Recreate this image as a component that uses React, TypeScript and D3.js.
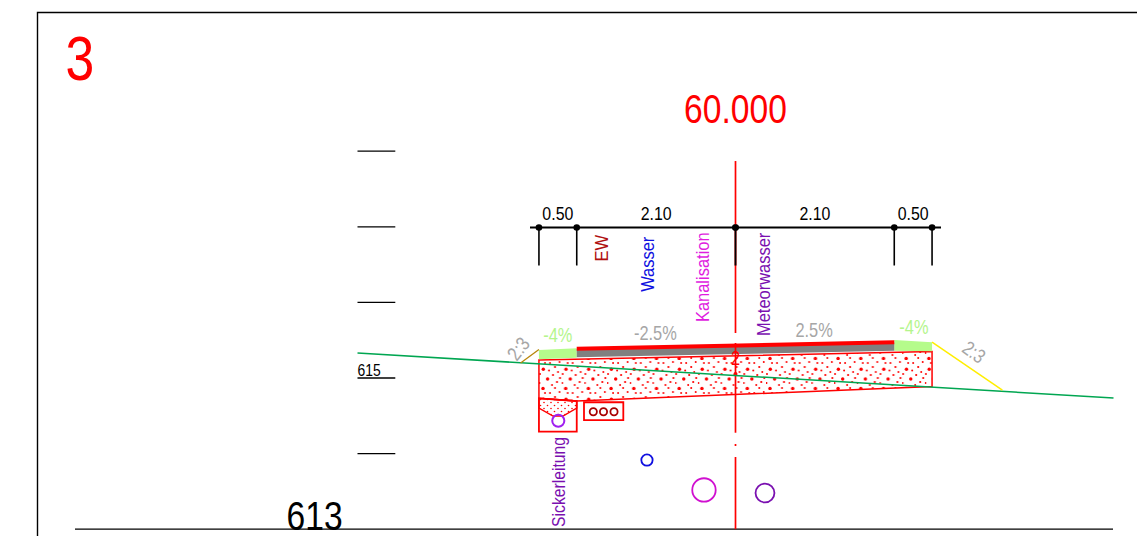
import React from "react";
import * as d3 from "d3";

type P = [number, number];

// section geometry: [offset from axis in m, elevation in m]
const terrain: P[] = [[-5, 615.33], [5, 614.735]];
const roadSurface: P[] = [[-2.1, 615.388], [2.1, 615.472]];
const roadLayer: P[] = [[-2.1, 615.388], [2.1, 615.472], [2.1, 615.361], [-2.1, 615.274]];
const shoulderLeft: P[] = [[-2.6, 615.37], [-2.1, 615.393], [-2.1, 615.269], [-2.6, 615.247]];
const shoulderRight: P[] = [[2.1, 615.503], [2.6, 615.472], [2.6, 615.353], [2.1, 615.361]];
const foundation: P[] = [[-2.6, 615.238], [2.6, 615.35], [2.6, 614.888], [-2.1, 614.696], [-2.6, 614.731]];
const drainFill: P[] = [[-2.6, 614.731], [-2.1, 614.696], [-2.1, 614.603], [-2.282, 614.497], [-2.414, 614.497], [-2.6, 614.603]];
const drainBox: P[] = [[-2.6, 614.731], [-2.1, 614.696], [-2.1, 614.29], [-2.6, 614.29]];
const slopeLeft: P[] = [[-2.843, 615.198], [-2.6, 615.377]];
const slopeRight: P[] = [[2.6, 615.476], [3.53, 614.841]];
const ductBox: P[] = [[-2.004, 614.679], [-1.484, 614.679], [-1.484, 614.444], [-2.004, 614.444]];
const ductPipes: number[] = [-1.881, -1.746, -1.607];
const ductElevation = 614.554;
const pipes: { x: number; z: number; d: number; c: string; w: number }[] = [
  { x: -2.344, z: 614.435, d: 0.16, c: "#a020f0", w: 2 },
  { x: -1.171, z: 613.915, d: 0.15, c: "#1010e0", w: 1.8 },
  { x: -0.417, z: 613.519, d: 0.31, c: "#d010d0", w: 1.8 },
  { x: 0.39, z: 613.479, d: 0.25, c: "#7a10b0", w: 1.8 },
];
const dimOffsets: number[] = [-2.6, -2.1, 0, 2.1, 2.6];
const dimLabels: string[] = ["0.50", "2.10", "2.10", "0.50"];
const elevationTicks: number[] = [618, 617, 616, 615, 614];
const axisSegments: [number, number][] = [[617.87, 615.595], [615.463, 614.276], [613.955, 613]];
const utilityLabels: { t: string; x: number; c: string; bottom: number; sx: number }[] = [
  { t: "EW", x: -1.69, c: "#b01010", bottom: 616.54, sx: 0.89 },
  { t: "Wasser", x: -1.08, c: "#1010e0", bottom: 616.14, sx: 0.89 },
  { t: "Kanalisation", x: -0.35, c: "#e01ce0", bottom: 615.74, sx: 0.89 },
  { t: "Meteorwasser", x: 0.45, c: "#7a10b0", bottom: 615.555, sx: 0.89 },
  { t: "Sickerleitung", x: -2.255, c: "#7a10b0", bottom: 613.03, sx: 0.85 },
];
const gradeLabels: { t: string; x: number; z: number; c: string; r: number }[] = [
  { t: "-4%", x: -2.35, z: 615.48, c: "#b4f58c", r: 0 },
  { t: "-2.5%", x: -1.06, z: 615.5, c: "#a6a6a6", r: 0 },
  { t: "2.5%", x: 1.04, z: 615.54, c: "#a6a6a6", r: 0 },
  { t: "-4%", x: 2.36, z: 615.58, c: "#b4f58c", r: 0 },
  { t: "2:3", x: -2.8, z: 615.33, c: "#a6a6a6", r: -52 },
  { t: "2:3", x: 3.1, z: 615.27, c: "#a6a6a6", r: 36 },
];
// stipple tile dots: [x, y, radius]
const stippleDots: [number, number, number][] = [
  [4.3, 9.3, 1.7], [8.6, 19, 1.7], [4, 28.5, 1.7],
  [11, 3, 1.0], [16, 7, 1.1], [19, 12, 1.0], [14, 15, 1.1], [1, 14, 1.0],
  [18, 22, 1.1], [13, 25, 1.0], [0.5, 23, 1.0], [10, 10.5, 1.0], [20.5, 2, 1.0],
  [6, 3, 1.0], [16, 28, 1.0], [21, 18, 1.1],
];
const fineDots: [number, number][] = [[1.5, 1.5], [5, 4.5]];

const x = d3.scaleLinear().domain([-5, 5]).range([357.5, 1113.5]);
const y = d3.scaleLinear().domain([613, 615]).range([529.2, 378]);
const px = 75.6;
const pt = (p: P): [number, number] => [x(p[0]), y(p[1])];
const line = d3.line<P>().x((d) => x(d[0])).y((d) => y(d[1]));
const closed = (a: P[]) => line(a) + "Z";
const FONT = "'Liberation Sans',Arial,sans-serif";

function T(props: {
  x: number;
  y: number;
  size: number;
  fill: string;
  rotate?: number;
  sx?: number;
  anchor?: "start" | "middle" | "end";
  children: string;
}) {
  const { x: tx, y: ty, size, fill, rotate = 0, sx = 0.82, anchor = "start", children } = props;
  return (
    <text
      transform={`translate(${tx} ${ty}) rotate(${rotate}) scale(${sx} 1)`}
      fontSize={size}
      fill={fill}
      textAnchor={anchor}
    >
      {children}
    </text>
  );
}

export default function App() {
  return (
    <svg
      width={1137}
      height={536}
      viewBox="0 0 1137 536"
      style={{ position: "absolute", left: 0, top: 0, display: "block", background: "#fff" }}
      fontFamily={FONT}
    >
      <defs>
        <pattern id="stipple" width={22.7} height={30} patternUnits="userSpaceOnUse" patternTransform="translate(539 360)">
          {stippleDots.map((d, i) => (
            <circle key={i} cx={d[0]} cy={d[1]} r={d[2]} fill="#ff0000" />
          ))}
        </pattern>
        <pattern id="fine" width={7} height={6} patternUnits="userSpaceOnUse" patternTransform="translate(539 398)">
          {fineDots.map((d, i) => (
            <circle key={i} cx={d[0]} cy={d[1]} r={0.8} fill="#ff0000" />
          ))}
        </pattern>
      </defs>

      {/* frame */}
      <path d="M37.5 536V12.5H1137" fill="none" stroke="#000" strokeWidth={1.4} />
      <T x={65.5} y={80} size={63} fill="#ff0000">3</T>
      <T x={735.5} y={122.7} size={41} fill="#ff0000" anchor="middle">60.000</T>

      {/* elevation ticks */}
      {elevationTicks.map((e) => (
        <line key={e} x1={x(-5)} x2={x(-4.5)} y1={y(e)} y2={y(e)} stroke="#000" strokeWidth={1.3} />
      ))}
      <T x={357.5} y={376} size={17} fill="#000">615</T>
      <line x1={75} x2={1113} y1={y(613)} y2={y(613)} stroke="#000" strokeWidth={1.3} />
      <T x={286.5} y={530} size={41} fill="#000">613</T>

      {/* foundation */}
      <path d={closed(foundation)} fill="url(#stipple)" stroke="#ff0000" strokeWidth={1.5} />
      <path d={closed(drainFill)} fill="url(#fine)" stroke="#ff0000" strokeWidth={1.4} />
      <path d={closed(drainBox)} fill="none" stroke="#ff0000" strokeWidth={1.8} />

      {/* surface */}
      <path d={closed(shoulderLeft)} fill="#b5fb8b" />
      <path d={closed(shoulderRight)} fill="#b5fb8b" />
      <path d={closed(roadLayer)} fill="#808080" />
      <path d={line(roadSurface)!} fill="none" stroke="#ff0000" strokeWidth={4} />

      {/* dimension line */}
      <line x1={530} x2={941} y1={227.5} y2={227.5} stroke="#000" strokeWidth={1.8} />
      {dimOffsets.map((d) => (
        <g key={d}>
          <line x1={x(d)} x2={x(d)} y1={227} y2={265.5} stroke="#000" strokeWidth={1.6} />
          <circle cx={x(d)} cy={227.5} r={3.3} fill="#000" />
        </g>
      ))}
      {dimLabels.map((t, i) => (
        <T key={i} x={(x(dimOffsets[i]) + x(dimOffsets[i + 1])) / 2} y={220} size={18.5} sx={0.86} anchor="middle" fill="#000">
          {t}
        </T>
      ))}

      {/* axis */}
      {axisSegments.map((s, i) => (
        <line key={i} x1={x(0)} x2={x(0)} y1={y(s[0])} y2={y(s[1])} stroke="#ff0000" strokeWidth={1.7} />
      ))}
      <line x1={x(0)} x2={x(0)} y1={227} y2={265.5} stroke="#000" strokeWidth={1.6} />
      <circle cx={x(0)} cy={227.5} r={3.3} fill="#000" />
      <T x={x(0)} y={365} size={20} fill="#ff0000" anchor="middle">2</T>
      <circle cx={x(0)} cy={374} r={2} fill="#ff0000" />
      <line x1={x(0)} x2={x(0)} y1={444} y2={446} stroke="#ff0000" strokeWidth={1.7} />

      {/* terrain and slopes */}
      <path d={line(terrain)!} fill="none" stroke="#00a651" strokeWidth={1.5} />
      <path d={line(slopeLeft)!} fill="none" stroke="#b8860b" strokeWidth={1.3} />
      <path d={line(slopeRight)!} fill="none" stroke="#ffee00" strokeWidth={1.5} />

      {/* duct */}
      <path d={closed(ductBox)} fill="none" stroke="#ff0000" strokeWidth={1.8} />
      {ductPipes.map((d) => (
        <circle key={d} cx={x(d)} cy={y(ductElevation)} r={3.6} fill="none" stroke="#a80000" strokeWidth={1.8} />
      ))}

      {/* pipes */}
      {pipes.map((p, i) => (
        <circle key={i} cx={x(p.x)} cy={y(p.z)} r={(p.d / 2) * px} fill="none" stroke={p.c} strokeWidth={p.w} />
      ))}

      {/* utility labels */}
      {utilityLabels.map((l) => (
        <T key={l.t} x={x(l.x)} y={y(l.bottom)} rotate={-90} size={18.5} sx={l.sx} fill={l.c}>
          {l.t}
        </T>
      ))}

      {/* grades */}
      {gradeLabels.map((l, i) => {
        const [tx, ty] = pt([l.x, l.z]);
        return (
          <T key={i} x={tx} y={ty} rotate={l.r} size={20} fill={l.c} anchor="middle">
            {l.t}
          </T>
        );
      })}
    </svg>
  );
}
